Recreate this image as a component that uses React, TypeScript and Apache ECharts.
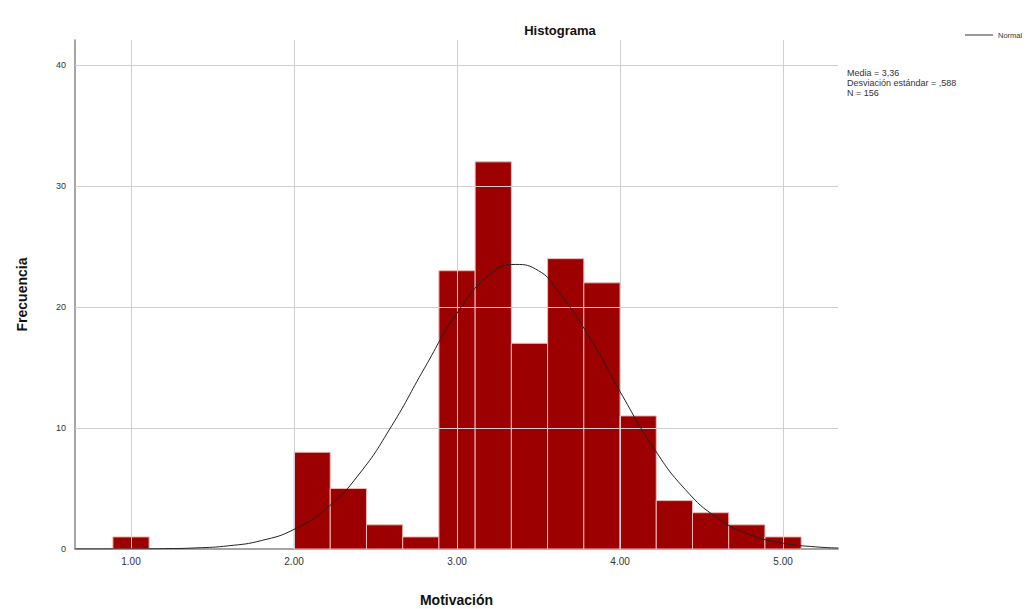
import React, { useEffect, useRef } from "react";
import * as echarts from "echarts";

// Histogram bins: centers at 1 + k*(2/9)
const BIN_WIDTH = 2 / 9;
const BIN_CENTERS = [1.0, 2.1111, 2.3333, 2.5556, 2.7778, 3.0, 3.2222, 3.4444, 3.6667, 3.8889, 4.1111, 4.3333, 4.5556, 4.7778, 5.0];
const COUNTS = [1, 8, 5, 2, 1, 23, 32, 17, 24, 22, 11, 4, 3, 2, 1];

// Normal curve points
const CURVE_X = [0.66, 0.9, 1.2, 1.4, 1.6, 1.8, 2.0, 2.2, 2.4, 2.6, 2.8, 3.0, 3.2, 3.36, 3.5, 3.6, 3.8, 4.0, 4.2, 4.4, 4.6, 4.8, 5.0, 5.2, 5.34];
const CURVE_Y = [0.0, 0.003, 0.028, 0.091, 0.267, 0.697, 1.62, 3.36, 6.2, 10.2, 14.94, 19.5, 22.67, 23.52, 23.0, 21.64, 17.78, 13.01, 8.48, 4.92, 2.54, 1.17, 0.48, 0.176, 0.081];

const X_TICKS = [1, 2, 3, 4, 5];
const X_LABELS = ["1.00", "2.00", "3.00", "4.00", "5.00"];
const Y_TICKS = [0, 10, 20, 30, 40];

const STATS = ["Media = 3,36", "Desviación estándar = ,588", "N = 156"];

export default function App() {
  const ref = useRef<HTMLDivElement>(null);
  useEffect(() => {
    document.body.style.margin = "0";
    if (!ref.current) return;
    const chart = echarts.init(ref.current, null, { renderer: "svg" });
    const FONT = "Liberation Sans, Arial, sans-serif";
    const barData = BIN_CENTERS.map((c, i) => [c - BIN_WIDTH / 2, c + BIN_WIDTH / 2, COUNTS[i]]);
    const curve = CURVE_X.map((x, i) => [x, CURVE_Y[i]]);
    chart.setOption({
      animation: false,
      backgroundColor: "#ffffff",
      title: {
        text: "Histograma",
        left: 555,
        top: 19,
        textAlign: "center",
        textStyle: { fontFamily: FONT, fontSize: 13, fontWeight: "bold", color: "#111" },
      },
      legend: {
        data: [{ name: "Normal", icon: "rect" }],
        left: 960,
        top: 26,
        itemWidth: 28,
        itemHeight: 1,
        itemGap: 3,
        textStyle: { fontFamily: FONT, fontSize: 7.5, color: "#333" },
      },
      grid: { left: 75, top: 40, width: 763, height: 509, containLabel: false, outerBoundsMode: "none" },
      xAxis: {
        type: "value",
        min: 0.6564,
        max: 5.337,
        name: "Motivación",
        nameLocation: "middle",
        nameGap: 44,
        nameTextStyle: { fontFamily: FONT, fontSize: 14, fontWeight: "bold", color: "#111" },
        axisLine: { show: true, lineStyle: { color: "#888", width: 1.5 } },
        axisTick: { show: false },
        splitLine: { show: false },
        axisLabel: {
          customValues: X_TICKS,
          formatter: (v: number) => X_LABELS[X_TICKS.indexOf(Math.round(v))] ?? "",
          fontFamily: FONT,
          fontSize: 10,
          color: "#333",
          margin: 7,
        },
      },
      yAxis: {
        type: "value",
        min: 0,
        max: 42.07,
        name: "Frecuencia",
        nameLocation: "middle",
        nameGap: 46,
        nameRotate: 90,
        nameTextStyle: { fontFamily: FONT, fontSize: 14, fontWeight: "bold", color: "#111" },
        axisLine: { show: true, lineStyle: { color: "#888", width: 1.5 } },
        axisTick: { show: false },
        splitLine: { show: false },
        axisLabel: {
          customValues: Y_TICKS,
          formatter: (v: number) => (Y_TICKS.includes(Math.round(v)) ? String(Math.round(v)) : ""),
          fontFamily: FONT,
          fontSize: 9,
          color: "#333",
          margin: 9,
        },
      },
      series: [
        {
          type: "line",
          name: "grid",
          data: [],
          silent: true,
          markLine: {
            silent: true,
            symbol: ["none", "none"],
            label: { show: false },
            lineStyle: { color: "#cfcfcf", width: 1, type: "solid" },
            data: [
              ...X_TICKS.map((x) => ({ xAxis: x })),
              ...Y_TICKS.filter((y) => y > 0).map((y) => ({ yAxis: y })),
            ],
          },
        },
        {
          type: "custom",
          name: "Frecuencia",
          data: barData,
          z: 3,
          renderItem: (params: any, api: any) => {
            const p0 = api.coord([api.value(0), api.value(2)]);
            const p1 = api.coord([api.value(1), 0]);
            return {
              type: "rect",
              shape: { x: p0[0], y: p0[1], width: p1[0] - p0[0], height: p1[1] - p0[1] },
              style: { fill: "#9c0000", stroke: "#f0b8b8", lineWidth: 1 },
            };
          },
          encode: { x: [0, 1], y: 2 },
        },
        {
          type: "line",
          name: "Normal",
          data: curve,
          smooth: true,
          showSymbol: false,
          z: 5,
          lineStyle: { color: "#222", width: 1 },
          itemStyle: { color: "#333" },
        },
      ],
      graphic: [
        {
          type: "text",
          left: 847,
          top: 68,
          style: {
            text: STATS.join("\n"),
            font: `9px ${FONT}`,
            fill: "#333",
            lineHeight: 10,
          },
        },
      ],
    });
    return () => chart.dispose();
  }, []);
  return <div ref={ref} style={{ width: 1028, height: 609 }} />;
}
